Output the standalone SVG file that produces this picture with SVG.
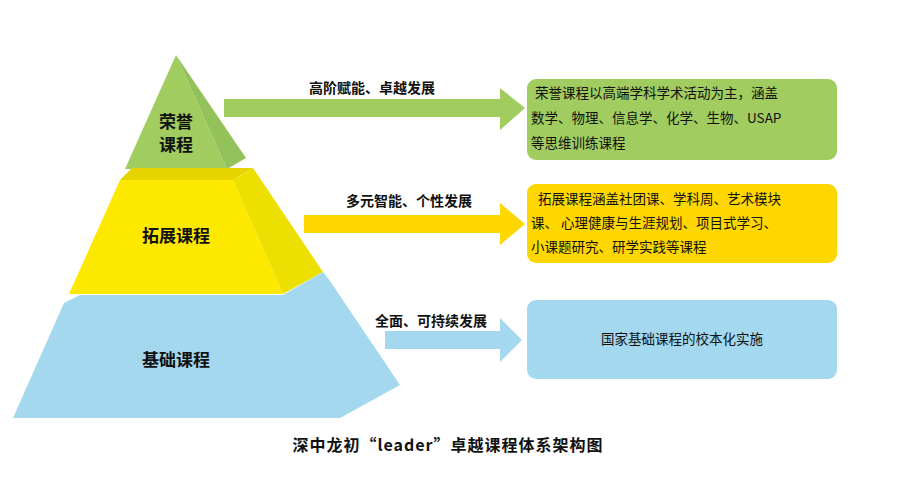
<svg xmlns="http://www.w3.org/2000/svg" width="897" height="478" viewBox="0 0 897 478">
<style>
text{font-family:"Noto Sans CJK SC","Liberation Serif",serif;fill:#111}
.lb{font-size:14px;font-weight:bold}
.big{font-size:17px;font-weight:bold}
.bx{font-size:13.5px}
</style>
<rect width="897" height="478" fill="#fff"/>
<g id="tier-top">
<polygon points="176,55 125,169 227,169" fill="#a0cc60"/>
<polygon points="176,55 227,169 246,158" fill="#94c25a"/>
<text class="big" x="176" y="128" text-anchor="middle">荣誉</text>
<text class="big" x="176" y="151" text-anchor="middle">课程</text>
</g>
<g id="tier-mid">
<polygon points="120,180 132,168 253,168 233,180" fill="#e6d400"/>
<polygon points="120,180 233,180 283,294 69,294" fill="#fde800"/>
<polygon points="233,180 253,168 323,272 283,294" fill="#ede000"/>
<text class="big" x="176" y="242" text-anchor="middle">拓展课程</text>
</g>
<g id="tier-base">
<polygon points="64,303 80,295 283,295 323,272 330,281 400,385 340,418 13,418" fill="#a3d8ee"/>
<text class="big" x="176" y="366" text-anchor="middle">基础课程</text>
</g>
<g id="connectors">
<polygon points="224,99 500,99 500,88 525,108 500,130 500,117 224,117" fill="#a0cc60"/>
<polygon points="304,215 500,215 500,203 525,224 500,245 500,233 304,233" fill="#ffd700"/>
<polygon points="385,331 500,331 500,318 522,340 500,362 500,349 385,349" fill="#a3d8ee"/>
<text class="lb" x="372" y="93" text-anchor="middle">高阶赋能、卓越发展</text>
<text class="lb" x="409" y="206" text-anchor="middle">多元智能、个性发展</text>
<text class="lb" x="431" y="326" text-anchor="middle">全面、可持续发展</text>
</g>
<g id="box-honor">
<rect x="527" y="79" width="310" height="81" rx="9" fill="#a0cc60"/>
<text class="bx" x="535" y="98">荣誉课程以高端学科学术活动为主，涵盖</text>
<text class="bx" x="531" y="123">数学、物理、信息学、化学、生物、USAP</text>
<text class="bx" x="531" y="148">等思维训练课程</text>
</g>
<g id="box-ext">
<rect x="527" y="184" width="310" height="79" rx="9" fill="#ffd700"/>
<text class="bx" x="538" y="204">拓展课程涵盖社团课、学科周、艺术模块</text>
<text class="bx" x="531" y="228">课、 心理健康与生涯规划、项目式学习、</text>
<text class="bx" x="531" y="252">小课题研究、研学实践等课程</text>
</g>
<g id="box-base">
<rect x="527" y="300" width="310" height="79" rx="9" fill="#a3d8ee"/>
<text class="bx" x="682" y="344" text-anchor="middle">国家基础课程的校本化实施</text>
</g>
<text x="448" y="451" text-anchor="middle" style="font-size:16px;font-weight:bold;letter-spacing:1px">深中龙初“leader”卓越课程体系架构图</text>
</svg>
